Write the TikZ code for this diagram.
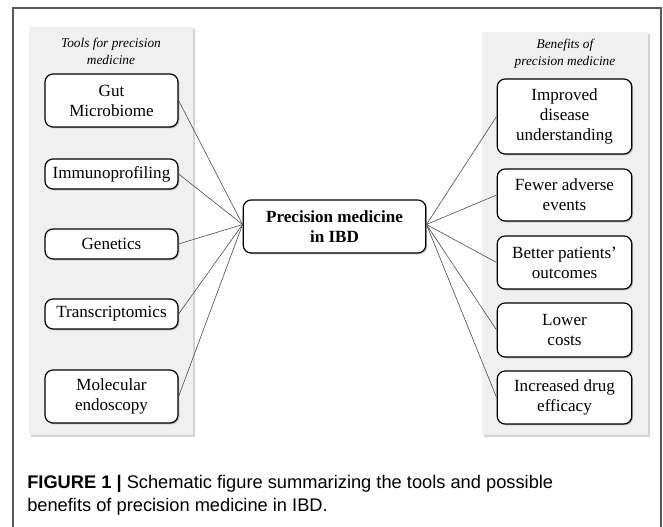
\documentclass[tikz,border=0pt]{standalone}
\usepackage{fontspec}
\setmainfont{Liberation Serif}
\newfontfamily\capfont{Liberation Sans}
\usetikzlibrary{shadows,positioning}

\tikzset{
  panel/.style={fill=black!6, draw=none, drop shadow={shadow xshift=1.2pt, shadow yshift=-1.2pt, opacity=0.35}},
  itembox/.style={draw=black, line width=0.9pt, rounded corners=6pt, fill=white,
    align=center, inner sep=0pt, font=\fontsize{12.8}{15}\selectfont,
    drop shadow={shadow xshift=1pt, shadow yshift=-1pt, opacity=0.45}},
  toolbox/.style={itembox, minimum width=99.75pt},
  benefitbox/.style={itembox, minimum width=101pt},
  paneltitle/.style={align=center, font=\fontsize{10}{12.75}\selectfont\itshape},
  link/.style={draw=black!70, line width=0.45pt}
}

\begin{document}
\begin{tikzpicture}[x=0.75pt, y=-0.75pt]
      \useasboundingbox (0,0) rectangle (663,527);

      % Outer frame
      \draw[black!65, line width=0.8pt] (13,527) -- (13,8) -- (661,8) -- (661,527);

      % Panels
      \fill[panel] (29,27) rectangle (193,435);
      \fill[panel] (482,32) rectangle (648,435);
      \node[paneltitle] (tooltitle) at (111,51) {Tools for precision\\medicine};
      \node[paneltitle] (benefittitle) at (565,54) {Benefits of\\precision medicine};

      % Tools
      \node[toolbox, minimum height=39.75pt] (gut) at (111.5,100.5) {Gut\\Microbiome};
      \node[toolbox, minimum height=22.5pt] (immuno) at (111.5,174) {Immunoprofiling};
      \node[toolbox, minimum height=22.5pt] (genetics) at (111.5,244) {Genetics};
      \node[toolbox, minimum height=22.5pt] (transcript) at (111.5,314) {Transcriptomics};
      \node[toolbox, minimum height=39.75pt] (endoscopy) at (111.5,396.5) {Molecular\\endoscopy};

      % Hub
      \node[itembox, minimum width=137pt, minimum height=39.75pt,
            font=\fontsize{12.8}{15.5}\selectfont\bfseries] (hub) at (334.5,226.5) {Precision medicine\\in IBD};

      % Benefits
      \node[benefitbox, minimum height=56.25pt] (understanding) at (564.5,116.5) {Improved\\disease\\understanding};
      \node[benefitbox, minimum height=39pt] (adverse) at (564.5,195) {Fewer adverse\\events};
      \node[benefitbox, minimum height=39.75pt] (outcomes) at (564.5,262.5) {Better patients'\\outcomes};
      \node[benefitbox, minimum height=40.5pt] (costs) at (564.5,330) {Lower\\costs};
      \node[benefitbox, minimum height=39.75pt] (efficacy) at (564.5,397.5) {Increased drug\\efficacy};

      % Connectors
      \foreach \t in {gut,immuno,genetics,transcript,endoscopy}
        \draw[link] (\t.east) -- ([yshift=1.5pt]hub.west);
      \foreach \b in {understanding,adverse,outcomes,costs,efficacy}
        \draw[link] ([yshift=1.5pt]hub.east) -- (\b.west);

      % Caption
      \node[anchor=north west, inner sep=0pt, align=left,
            font=\capfont\fontsize{13.7}{17.25}\selectfont] (caption) at (27,475)
        {\textbf{FIGURE 1} \textbf{|} Schematic figure summarizing the tools and possible\\
         benefits of precision medicine in IBD.};

    \end{tikzpicture}
\end{document}
